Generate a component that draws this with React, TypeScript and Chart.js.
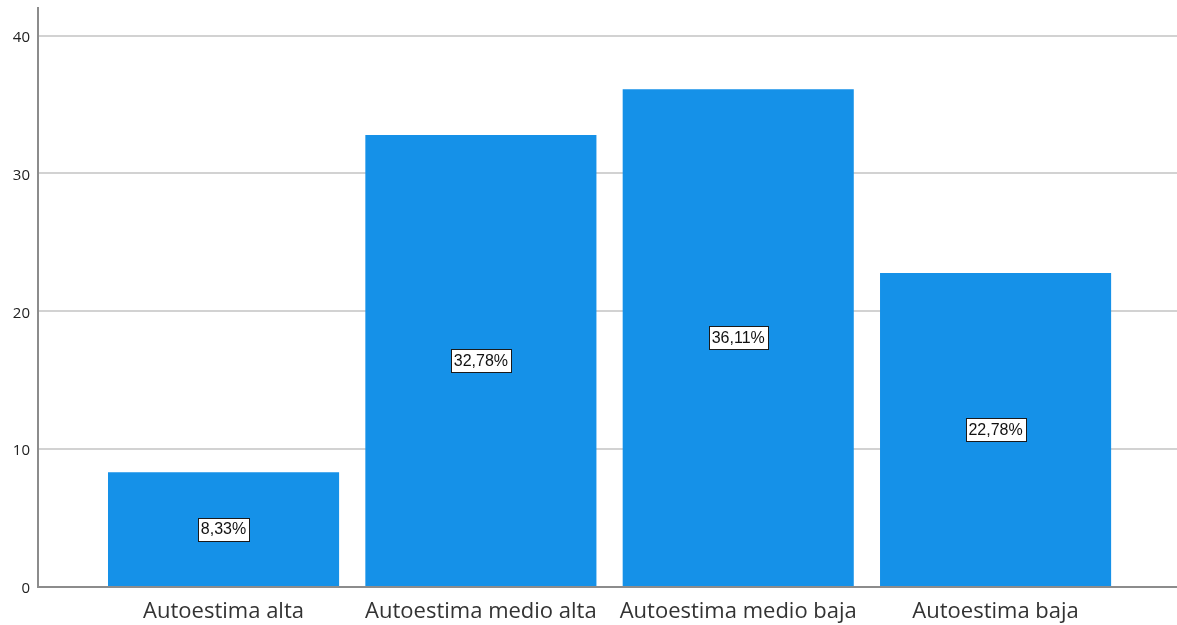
import React, { useEffect, useRef } from "react";
import { Chart, registerables } from "chart.js";

Chart.register(...registerables);

const categories: string[] = [
  "Autoestima alta",
  "Autoestima medio alta",
  "Autoestima medio baja",
  "Autoestima baja",
];
const percentages: number[] = [8.33, 32.78, 36.11, 22.78];
const yTickValues: number[] = [0, 10, 20, 30, 40];

const AXIS_FONT = "'Open Sans', 'DejaVu Sans', sans-serif";

const valueLabelPlugin = {
  id: "valueLabels",
  afterDatasetsDraw(chart: any) {
    const ctx = chart.ctx;
    const meta = chart.getDatasetMeta(0);
    ctx.save();
    ctx.font = "16px 'Liberation Sans', Arial, sans-serif";
    ctx.textAlign = "center";
    ctx.textBaseline = "middle";
    meta.data.forEach((bar: any, i: number) => {
      const text = percentages[i].toFixed(2).replace(".", ",") + "%";
      const cx = bar.x;
      const cy = (bar.y + bar.base) / 2;
      const w = Math.round(ctx.measureText(text).width + 6);
      const h = 23;
      const x0 = Math.round(cx - w / 2) + 0.5;
      const y0 = Math.round(cy - h / 2) + 0.5;
      ctx.fillStyle = "#ffffff";
      ctx.fillRect(x0, y0, w, h);
      ctx.strokeStyle = "#1a1a1a";
      ctx.lineWidth = 1;
      ctx.strokeRect(x0, y0, w, h);
      ctx.fillStyle = "#111111";
      ctx.fillText(text, cx, cy + 1);
    });
    ctx.restore();
  },
};

export default function App() {
  const canvasRef = useRef<HTMLCanvasElement | null>(null);

  useEffect(() => {
    document.body.style.margin = "0";
    const canvas = canvasRef.current;
    if (!canvas) return;
    const chart = new Chart(canvas, {
      type: "bar",
      data: {
        datasets: [
          {
            data: percentages.map((v, i) => ({ x: i + 1, y: v })),
            backgroundColor: "#1591E8",
            borderWidth: 0,
            barPercentage: 0.898,
            categoryPercentage: 1,
          },
        ],
      },
      options: {
        animation: false,
        responsive: false,
        devicePixelRatio: 1,
        layout: { padding: { top: 8, left: 0, right: 0, bottom: 0 } },
        plugins: {
          legend: { display: false },
          tooltip: { enabled: false },
        },
        scales: {
          x: {
            type: "linear",
            offset: false,
            bounds: "data",
            min: 0.279,
            max: 4.705,
            afterBuildTicks: (scale: any) => {
              scale.ticks = categories.map((_, i) => ({ value: i + 1 }));
            },
            afterFit: (scale: any) => {
              scale.height = 38;
              scale.paddingLeft = 0;
              scale.paddingRight = 0;
            },
            ticks: {
              callback: (v: any) => categories[Math.round(Number(v)) - 1] ?? "",
              font: { family: AXIS_FONT, size: 22 },
              color: "#333333",
              padding: 12,
              maxRotation: 0,
              autoSkip: false,
            },
            grid: { display: false, drawTicks: false, offset: false },
            border: { display: true, color: "#8c8c8c", width: 2 },
          },
          y: {
            min: 0,
            max: 42,
            afterBuildTicks: (scale: any) => {
              scale.ticks = yTickValues.map((v) => ({ value: v }));
            },
            afterFit: (scale: any) => {
              scale.width = 38;
              scale.paddingTop = 0;
              scale.paddingBottom = 0;
            },
            ticks: {
              font: { family: AXIS_FONT, size: 15 },
              color: "#222222",
              padding: 8,
              labelOffset: 2,
            },
            grid: {
              color: (c: any) => (c.tick && c.tick.value === 0 ? "rgba(0,0,0,0)" : "#d2d2d2"),
              lineWidth: 2,
              drawTicks: false,
            },
            border: { display: true, color: "#8c8c8c", width: 2 },
          },
        },
      } as any,
      plugins: [valueLabelPlugin],
    });
    return () => chart.destroy();
  }, []);

  return (
    <div style={{ position: "absolute", left: 0, top: 0, width: 1177, height: 625, background: "#ffffff" }}>
      <canvas ref={canvasRef} width={1177} height={625} />
    </div>
  );
}
